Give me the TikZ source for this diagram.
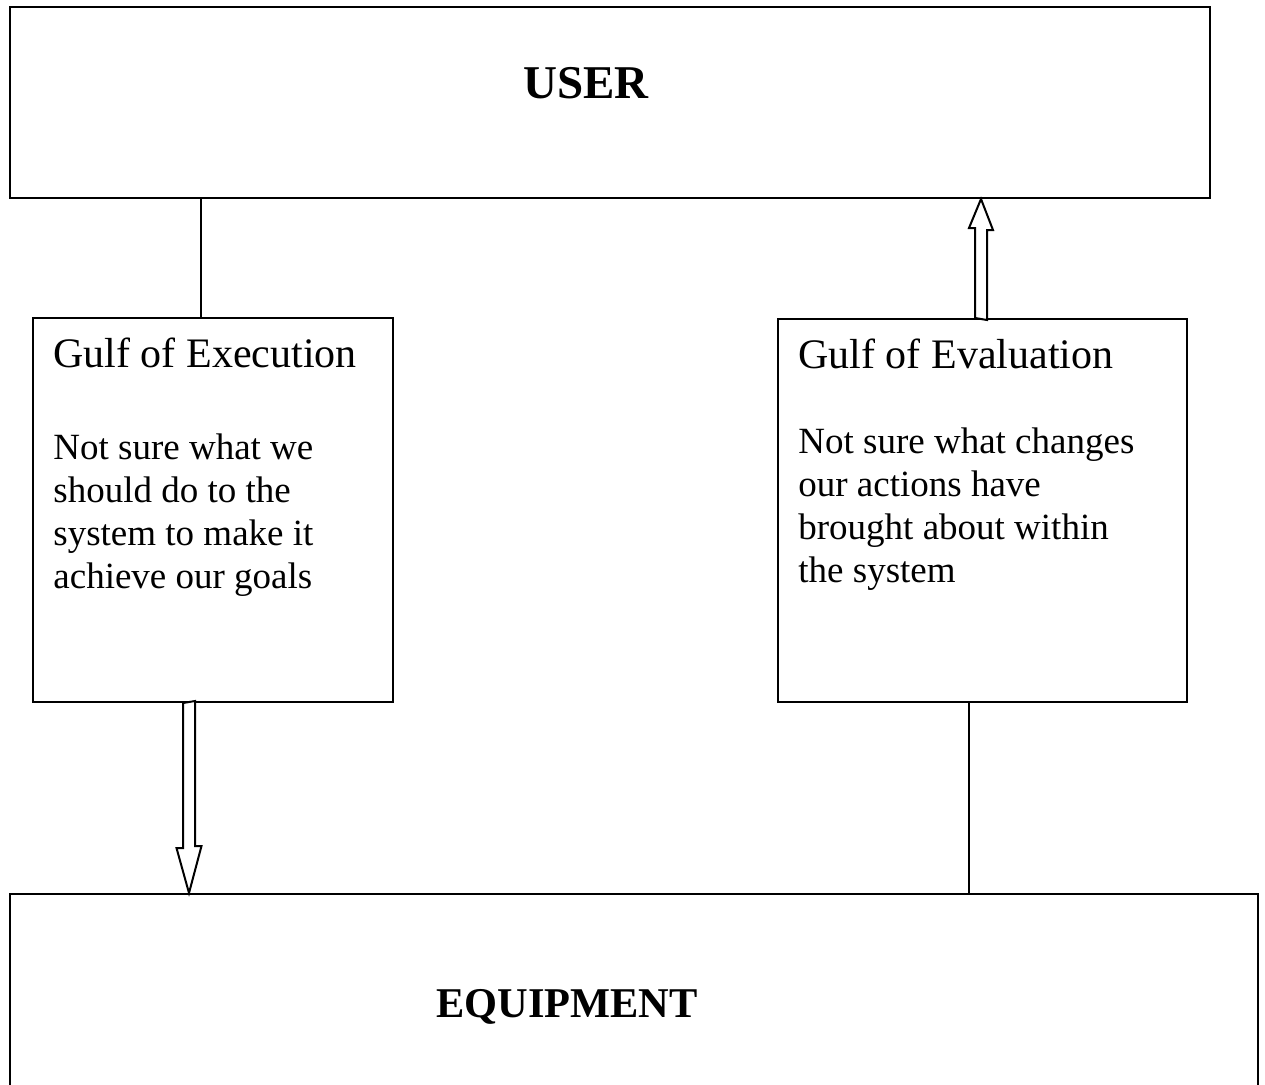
\documentclass[tikz,border=0pt]{standalone}
\usepackage{fontspec}
\setmainfont{Liberation Serif}
\usepackage{tikz}
\usetikzlibrary{positioning, calc}

\begin{document}
\begin{tikzpicture}[
    x=0.5pt, y=-0.5pt,
    box/.style={rectangle, draw=black, line width=1pt, anchor=north west, inner sep=0pt},
    heading/.style={font=\fontsize{23.5}{28}\selectfont\bfseries, inner sep=0pt, anchor=base west},
    gulftitle/.style={font=\fontsize{21}{25}\selectfont, inner sep=0pt, anchor=base west},
    gulfbody/.style={font=\fontsize{18.5}{21.5}\selectfont, align=left, inner sep=0pt, anchor=base west},
    link/.style={draw=black, line width=1pt},
    hollow/.style={draw=black, line width=1pt, fill=white, line join=miter}
]
\useasboundingbox (0,0) rectangle (1265,1084);

% Boxes
\node[box, minimum width=600pt, minimum height=95.5pt] (user) at (9,6) {};
\node[box, minimum width=180pt, minimum height=192pt] (exec) at (32,317) {};
\node[box, minimum width=204.5pt, minimum height=191.5pt] (eval) at (777,318) {};
\node[box, minimum width=624pt, minimum height=125pt] (equip) at (9,893) {};

% Texts
\node[heading] (userlbl) at (523,98) {USER};
\node[heading, font=\fontsize{21.2}{26}\selectfont\bfseries] (equiplbl) at (436,1017) {EQUIPMENT};
\node[gulftitle] (exectitle) at (53,367) {Gulf of Execution};
\node[gulfbody] (execbody) at (53,588) {Not sure what we\\should do to the\\system to make it\\achieve our goals};
\node[gulftitle] (evaltitle) at (798,368) {Gulf of Evaluation};
\node[gulfbody] (evalbody) at (798,582) {Not sure what changes\\our actions have\\brought about within\\the system};

% Plain links
\draw[link] ($(user.south west)+(192,0)$) -- ($(exec.north west)+(169,0)$);
\draw[link] ($(eval.south west)+(192,0)$) -- ($(equip.north west)+(960,0)$);

% Hollow block arrows
\draw[hollow] ($(exec.south west)+(151,0)$) -- ++(0,145) -- ++(-6.5,0)
    -- ($(equip.north west)+(180,0)$) -- ++(12.5,-47) -- ++(-6.5,0) -- ++(0,-145) -- cycle;
\draw[hollow] ($(eval.north west)+(198,0)$) -- ++(0,-90) -- ++(-6,0)
    -- ($(user.south west)+(972,0)$) -- ++(12,31) -- ++(-6,0) -- ++(0,90) -- cycle;

\end{tikzpicture}
\end{document}
